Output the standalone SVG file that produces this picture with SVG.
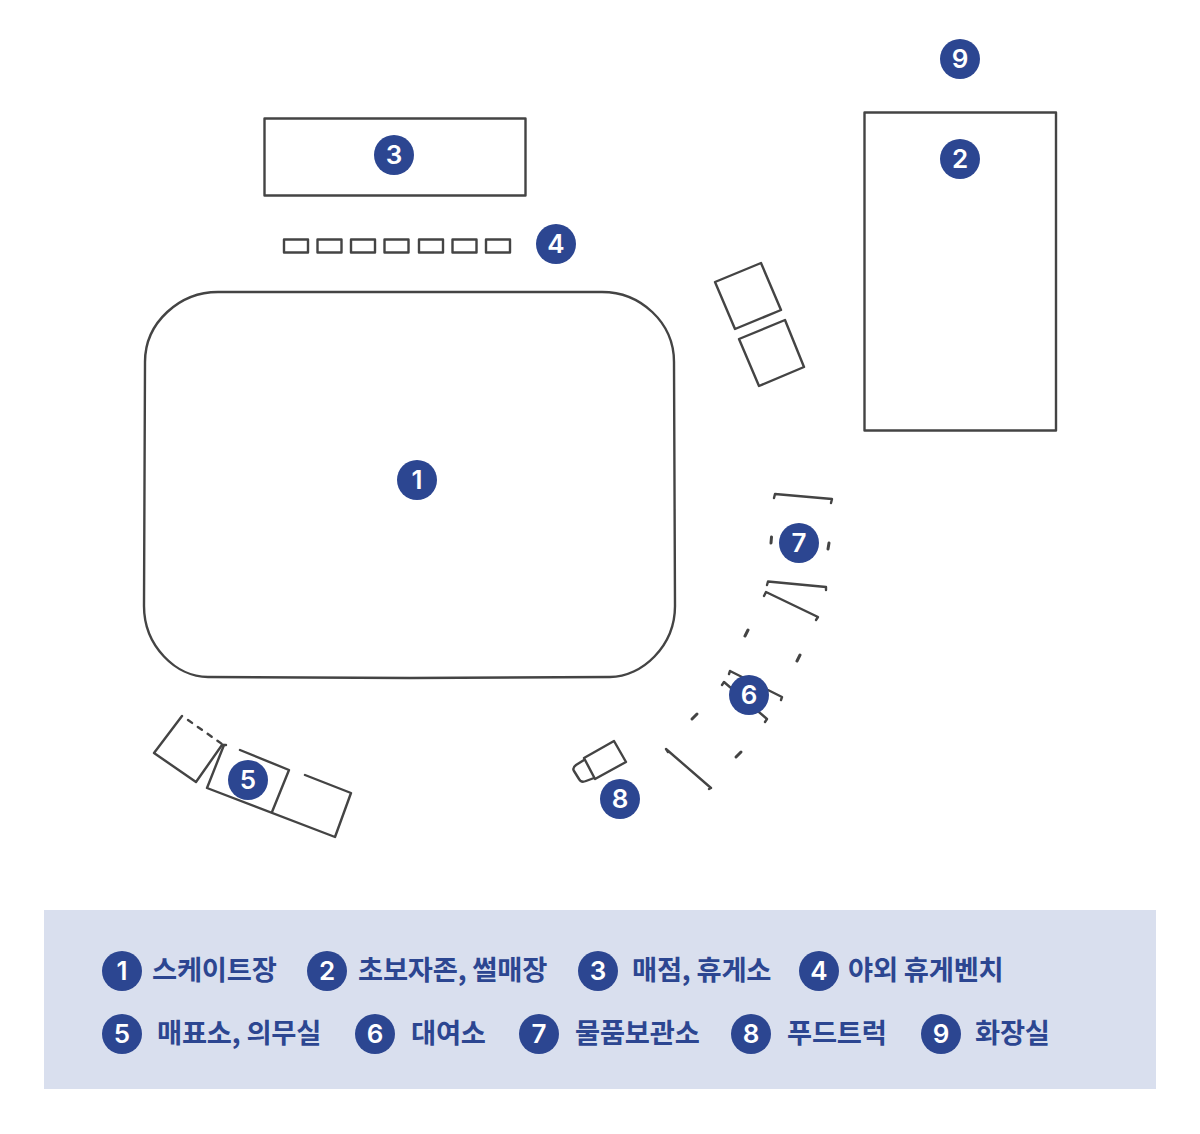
<svg xmlns="http://www.w3.org/2000/svg" width="1200" height="1134" viewBox="0 0 1200 1134">
<style>
.s{fill:none;stroke:#444;stroke-width:2.4;stroke-linejoin:round;stroke-linecap:round}
.t{stroke-width:3}
.c{fill:#2c4691}
.n{fill:#fff;font-family:Inter,"Noto Sans",sans-serif;font-size:26px;font-weight:600;text-anchor:middle}
.l{fill:#2c4691;font-family:"Noto Sans CJK KR",sans-serif;font-size:27.3px;font-weight:600;letter-spacing:-.2px}
</style>
<rect width="1200" height="1134" fill="#fff"/>
<g id="shapes">
<path id="rink" class="s" d="M218 292H602C640 292 674 322 674 362L675 606C675 646 642 677 610 677L410 678L208 677C176 677 144 646 144 606L145 362C145 322 180 292 218 292Z"/>
<rect id="zone2" class="s" x="864.500" y="112.500" width="191.500" height="318"/>
<rect id="shop" class="s" x="264.500" y="118.500" width="261" height="77"/>
<g id="benches" class="s">
<rect x="284" y="239.500" width="24" height="13"/><rect x="317.500" y="239.500" width="24" height="13"/><rect x="351" y="239.500" width="24" height="13"/><rect x="384.500" y="239.500" width="24" height="13"/><rect x="419" y="239.500" width="24" height="13"/><rect x="452.500" y="239.500" width="24" height="13"/><rect x="486" y="239.500" width="24" height="13"/>
</g>
<path id="box-a" class="s" d="M715 282L761 263L781 310L735 329Z"/>
<path id="box-b" class="s" d="M739 339L785 320L804 367L759 386Z"/>
<g id="ticket" class="s">
<path d="M182 716L154 753L196 782L222 745"/>
<path d="M188 720L222 744" stroke-dasharray="5 7"/>
<path d="M222 745H226"/>
<path d="M224 745L207 788L335 837L351 793L305 775"/>
<path d="M240 750L289 770L272 812"/>
</g>
<g id="rental" class="s">
<path d="M774 498L775 494L832 499L831 503"/>
<path class="t" d="M771 543L771.500 537M828 549L829 543"/>
<path d="M767 585L768 581.500L826 587L826 590"/>
<path d="M764 596L766 592L818 617L816 620"/>
<path class="t" d="M745 636L748 630M797 661L800 655"/>
<path d="M729 674L730 671L782 697L781 700"/>
<path d="M722 685L724 682L767 719L765 722"/>
<path class="t" d="M692 719L697 714M736 757L741 752"/>
<path d="M668 752L666 749L711 788L709 789"/>
</g>
<g id="truck" class="s">
<path d="M584 758L614 741L626 762L595 779Z"/>
<path d="M584 760L576 765Q572 768 574 771L579 779Q581 783 586 781L594 778"/>
</g>
</g>
<g id="m1"><circle class="c" cx="417" cy="480" r="20"/><text class="n" x="417" y="489">1</text></g>
<g id="m2"><circle class="c" cx="960" cy="159" r="20"/><text class="n" x="960" y="168">2</text></g>
<g id="m3"><circle class="c" cx="394" cy="155" r="20"/><text class="n" x="394" y="164">3</text></g>
<g id="m4"><circle class="c" cx="556" cy="244" r="20"/><text class="n" x="556" y="253">4</text></g>
<g id="m5"><circle class="c" cx="248" cy="780" r="20"/><text class="n" x="248" y="789">5</text></g>
<g id="m6"><circle class="c" cx="749" cy="695" r="20"/><text class="n" x="749" y="704">6</text></g>
<g id="m7"><circle class="c" cx="799" cy="543" r="20"/><text class="n" x="799" y="552">7</text></g>
<g id="m8"><circle class="c" cx="620" cy="799" r="20"/><text class="n" x="620" y="808">8</text></g>
<g id="m9"><circle class="c" cx="960" cy="59" r="20"/><text class="n" x="960" y="68">9</text></g>
<g id="legend">
<rect x="44" y="910" width="1112" height="179" fill="#d9dfee"/>
<g><circle class="c" cx="122" cy="971" r="20"/><text class="n" x="122" y="980">1</text><text class="l" x="152" y="980">스케이트장</text></g>
<g><circle class="c" cx="327" cy="971" r="20"/><text class="n" x="327" y="980">2</text><text class="l" x="358" y="980">초보자존, 썰매장</text></g>
<g><circle class="c" cx="598" cy="971" r="20"/><text class="n" x="598" y="980">3</text><text class="l" x="632" y="980">매점, 휴게소</text></g>
<g><circle class="c" cx="819" cy="971" r="20"/><text class="n" x="819" y="980">4</text><text class="l" x="848" y="980">야외 휴게벤치</text></g>
<g><circle class="c" cx="122" cy="1034" r="20"/><text class="n" x="122" y="1043">5</text><text class="l" x="157" y="1043">매표소, 의무실</text></g>
<g><circle class="c" cx="375" cy="1034" r="20"/><text class="n" x="375" y="1043">6</text><text class="l" x="411" y="1043">대여소</text></g>
<g><circle class="c" cx="539" cy="1034" r="20"/><text class="n" x="539" y="1043">7</text><text class="l" x="575" y="1043">물품보관소</text></g>
<g><circle class="c" cx="751" cy="1034" r="20"/><text class="n" x="751" y="1043">8</text><text class="l" x="787" y="1043">푸드트럭</text></g>
<g><circle class="c" cx="941" cy="1034" r="20"/><text class="n" x="941" y="1043">9</text><text class="l" x="975" y="1043">화장실</text></g>
</g>
</svg>
